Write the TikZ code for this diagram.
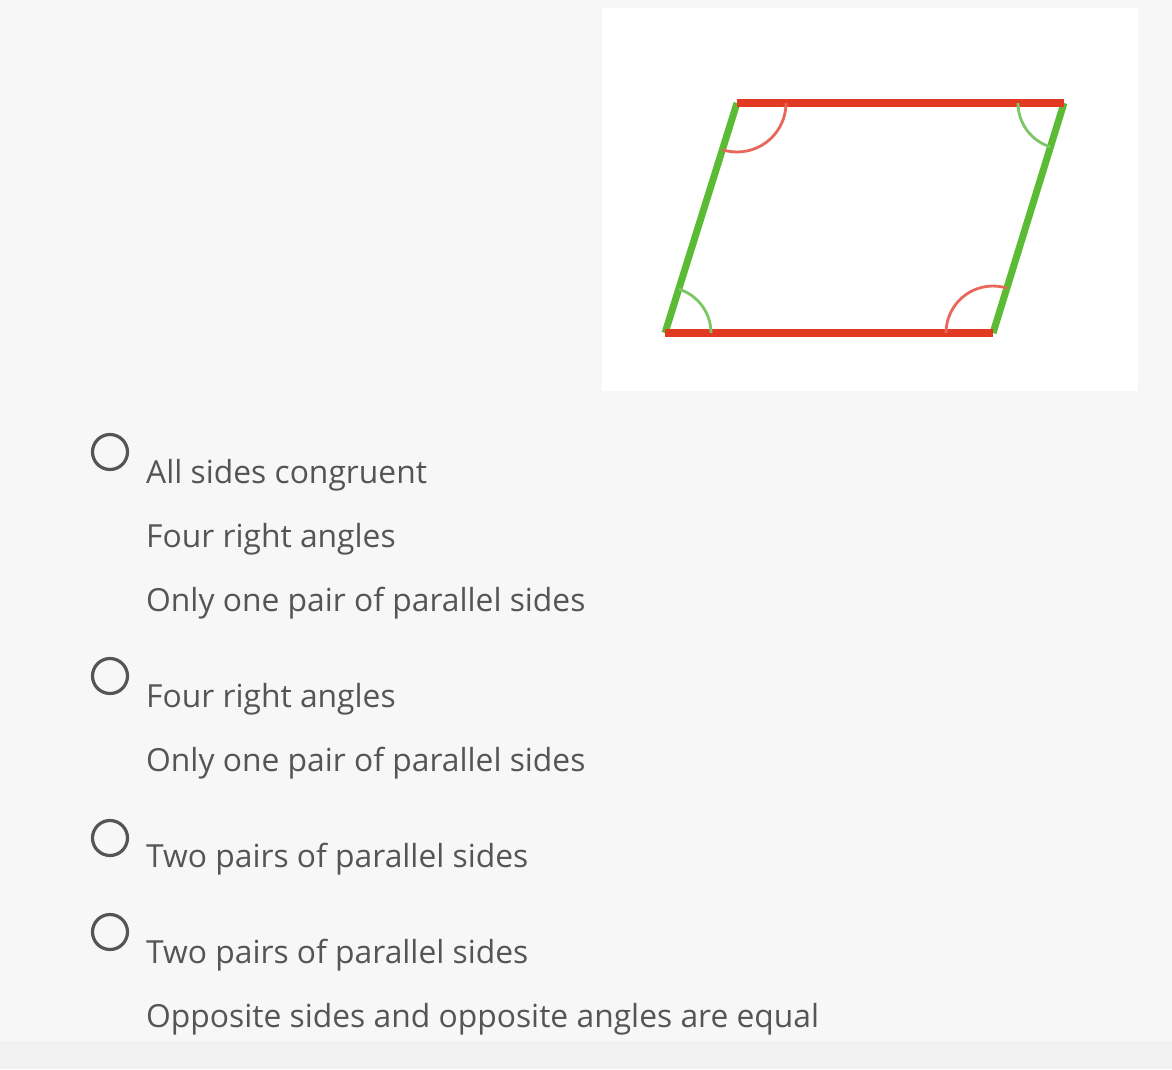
\documentclass[tikz,border=0pt]{standalone}
\usepackage{fontspec}
\setmainfont{Open Sans}
\definecolor{bg}{HTML}{F7F7F7}
\definecolor{txt}{HTML}{555555}
\definecolor{pred}{HTML}{E23A22}
\definecolor{pgreen}{HTML}{5CBB34}
\definecolor{ared}{HTML}{E8675A}
\definecolor{agreen}{HTML}{7CC765}
\tikzset{
  redside/.style={draw=pred,line width=8pt},
  greenside/.style={draw=pgreen,line width=7pt},
  redarc/.style={draw=ared,line width=2.8pt},
  greenarc/.style={draw=agreen,line width=2.8pt},
  radio/.style={draw=txt,line width=3.2pt,circle,minimum size=35pt,inner sep=0pt},
  opt/.style={anchor=base west,inner sep=0pt,text=txt,font=\fontsize{31.8}{38}\selectfont}
}
\begin{document}
\begin{tikzpicture}[x=1pt,y=-1pt]
\useasboundingbox (0,0) rectangle (1172,1069);
\fill[bg] (0,0) rectangle (1172,1069);
\fill[black!5] (0,1041) rectangle (1172,1069);
\fill[white] (602,8) rectangle (1138,391);
% parallelogram
\coordinate (TL) at (737,103);
\coordinate (TR) at (1064,103);
\coordinate (BL) at (665,333);
\coordinate (BR) at (993,333);
\draw[greenside] (BL) -- (TL);
\draw[greenside] (BR) -- (TR);
\draw[redside] (TL) -- (TR);
\draw[redside] (BL) -- (BR);
% angle arcs (y axis flipped: angles measured clockwise from right)
\draw[redarc] ([xshift=49pt]TL) arc[start angle=0,end angle=107.3,radius=49];
\draw[greenarc] ([xshift=-46pt]TR) arc[start angle=180,end angle=107.3,radius=46];
\draw[greenarc] ([xshift=46pt]BL) arc[start angle=0,end angle=-72.7,radius=46];
\draw[redarc] ([xshift=-47pt]BR) arc[start angle=180,end angle=287.3,radius=47];
% radio buttons
\node[radio] (r1) at (110,452) {};
\node[radio] (r2) at (110,676) {};
\node[radio] (r3) at (110,838) {};
\node[radio] (r4) at (110,932) {};
% options
\node[opt] (t1) at (146,483) {All sides congruent};
\node[opt] (t2) at (146,547) {Four right angles};
\node[opt] (t3) at (146,611) {Only one pair of parallel sides};
\node[opt] (t4) at (146,707) {Four right angles};
\node[opt] (t5) at (146,771) {Only one pair of parallel sides};
\node[opt] (t6) at (146,867) {Two pairs of parallel sides};
\node[opt] (t7) at (146,963) {Two pairs of parallel sides};
\node[opt] (t8) at (146,1027) {Opposite sides and opposite angles are equal};
\end{tikzpicture}
\end{document}
